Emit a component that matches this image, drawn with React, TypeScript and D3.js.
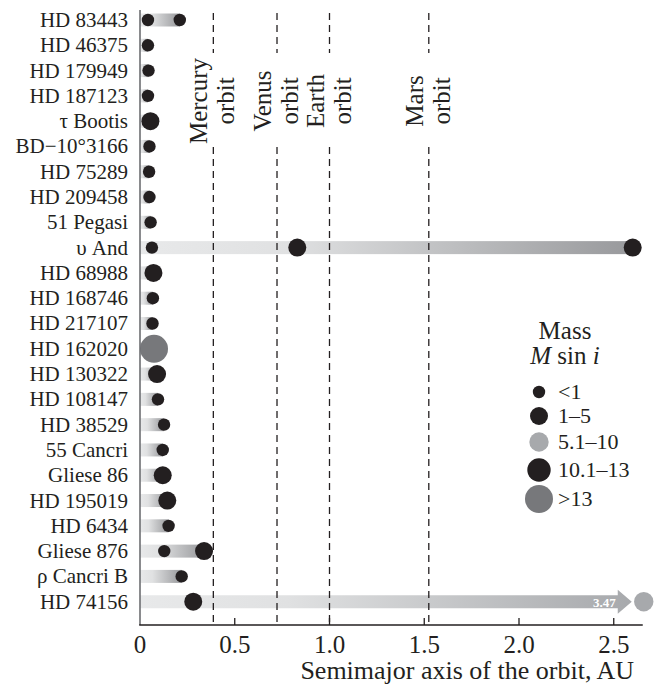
import React from "react";
import * as d3 from "d3";

const starNames = [
  "HD 83443", "HD 46375", "HD 179949", "HD 187123", "τ Bootis", "BD−10°3166",
  "HD 75289", "HD 209458", "51 Pegasi", "υ And", "HD 68988", "HD 168746",
  "HD 217107", "HD 162020", "HD 130322", "HD 108147", "HD 38529", "55 Cancri",
  "Gliese 86", "HD 195019", "HD 6434", "Gliese 876", "ρ Cancri B", "HD 74156",
];

// semimajor axes (AU) of planets for each star
const planetSemimajor: number[][] = [
  [0.042, 0.21], [0.042], [0.045], [0.042], [0.055], [0.05],
  [0.048], [0.05], [0.056], [0.063, 0.83, 2.6], [0.071], [0.068],
  [0.066], [0.074], [0.09], [0.095], [0.127], [0.12],
  [0.12], [0.144], [0.151], [0.128, 0.338], [0.22], [0.281, 3.47],
];

// mass class index for each planet (see massClasses)
const planetMassClass: number[][] = [
  [0, 0], [0], [0], [0], [1], [0],
  [0], [0], [0], [0, 1, 1], [1], [0],
  [0], [4], [1], [0], [0], [0],
  [1], [1], [0], [0, 1], [0], [1, 2],
];

const massClasses = ["<1", "1–5", "5.1–10", "10.1–13", ">13"];
const xTicks = [0, 0.5, 1.0, 1.5, 2.0, 2.5];
const orbitNames = ["Mercury", "Venus", "Earth", "Mars"];
const orbitRadii = [0.387, 0.723, 1.0, 1.524];

const tickMax = 2.5;
const visibleMax = 2.65;

const massRadius = [6.2, 9, 9.7, 11.7, 14];
const massColor = ["#231f20", "#231f20", "#a7a9ac", "#231f20", "#77787b"];

const FONT = "'Liberation Serif', 'Times New Roman', Tinos, serif";

export default function App() {
  const width = 654;
  const height = 686;
  const x = d3.scaleLinear().domain([0, tickMax]).range([140, 613.75]);
  const y = d3
    .scalePoint<string>()
    .domain(starNames)
    .range([20, 601.7]);
  const axisY = 625;
  const barH = 13;

  const xPos = (a: number) => (a > visibleMax ? x(tickMax) + 30 : x(a));

  return (
    <svg
      width={width}
      height={height}
      style={{ position: "absolute", left: 0, top: 0, background: "#fff", fontFamily: FONT }}
    >
      <defs>
        {starNames.map((s, i) => {
          const maxA = d3.max(planetSemimajor[i]) as number;
          const end = maxA > visibleMax ? x(tickMax) + 18 : x(maxA);
          return (
            <linearGradient
              key={s}
              id={`g${i}`}
              gradientUnits="userSpaceOnUse"
              x1={x(0)}
              x2={end}
              y1={0}
              y2={0}
            >
              <stop offset="0" stopColor="#e8e9ea" />
              <stop offset="0.3" stopColor="#e0e1e2" />
              <stop offset="1" stopColor={maxA > visibleMax ? "#a7a9ac" : "#98999c"} />
            </linearGradient>
          );
        })}
      </defs>

      {/* bars */}
      {starNames.map((s, i) => {
        const maxA = d3.max(planetSemimajor[i]) as number;
        const cy = y(s) as number;
        if (maxA > visibleMax) {
          const bx = x(tickMax) + 4;
          const tip = x(tickMax) + 18;
          return (
            <g key={s}>
              <path
                d={`M${x(0)},${cy - barH / 2}H${bx}V${cy - 12}L${tip},${cy}L${bx},${cy + 12}V${cy + barH / 2}H${x(0)}Z`}
                fill={`url(#g${i})`}
              />
              <text
                x={bx - 2}
                y={cy + 5}
                textAnchor="end"
                fontSize={13}
                fontWeight="bold"
                fill="#ffffff"
                style={{ fontFamily: FONT }}
              >
                {String(maxA)}
              </text>
            </g>
          );
        }
        return (
          <rect
            key={s}
            x={x(0)}
            y={cy - barH / 2}
            width={x(maxA) - x(0)}
            height={barH}
            fill={`url(#g${i})`}
          />
        );
      })}

      {/* orbit lines */}
      {orbitRadii.map((r, i) => (
        <g key={orbitNames[i]}>
          <line
            x1={x(r)}
            x2={x(r)}
            y1={13}
            y2={53}
            stroke="#231f20"
            strokeWidth={1.3}
            strokeDasharray="7,5"
          />
          <line
            x1={x(r)}
            x2={x(r)}
            y1={147}
            y2={axisY}
            stroke="#231f20"
            strokeWidth={1.3}
            strokeDasharray="7,5"
          />
          <text
            transform={`translate(${x(r) - 6},101) rotate(-90)`}
            textAnchor="middle"
            fontSize={25}
            fill="#231f20"
            style={{ fontFamily: FONT }}
          >
            {orbitNames[i]}
          </text>
          <text
            transform={`translate(${x(r) + 21},101) rotate(-90)`}
            textAnchor="middle"
            fontSize={25}
            fill="#231f20"
            style={{ fontFamily: FONT }}
          >
            orbit
          </text>
        </g>
      ))}

      {/* planets */}
      {starNames.map((s, i) =>
        planetSemimajor[i].map((a, j) => {
          const c = planetMassClass[i][j];
          return (
            <circle
              key={`${s}-${j}`}
              cx={xPos(a)}
              cy={y(s) as number}
              r={massRadius[c]}
              fill={massColor[c]}
            />
          );
        })
      )}

      {/* left axis */}
      <line x1={x(0)} x2={x(0)} y1={10} y2={axisY} stroke="#6d6e71" strokeWidth={1.6} />
      {/* bottom axis */}
      <line x1={x(0) - 0.8} x2={x(tickMax) + 29} y1={axisY} y2={axisY} stroke="#231f20" strokeWidth={1.4} />
      {xTicks.map((t) => (
        <g key={t}>
          {t > 0 && (
            <line x1={x(t)} x2={x(t)} y1={axisY} y2={axisY - 7} stroke="#231f20" strokeWidth={1.3} />
          )}
          <text
            x={x(t)}
            y={653}
            textAnchor="middle"
            fontSize={25}
            fill="#231f20"
            style={{ fontFamily: FONT }}
          >
            {t === 0 ? "0" : d3.format(".1f")(t)}
          </text>
        </g>
      ))}
      <text
        x={634}
        y={679}
        textAnchor="end"
        fontSize={26}
        fill="#231f20"
        style={{ fontFamily: FONT }}
      >
        Semimajor axis of the orbit, AU
      </text>

      {/* star labels */}
      {starNames.map((s) => (
        <text
          key={s}
          x={128}
          y={(y(s) as number) + 7}
          textAnchor="end"
          fontSize={21}
          fill="#231f20"
          style={{ fontFamily: FONT }}
        >
          {s}
        </text>
      ))}

      {/* legend */}
      <text x={565} y={339} textAnchor="middle" fontSize={25} fill="#231f20" style={{ fontFamily: FONT }}>
        Mass
      </text>
      <text x={565} y={364} textAnchor="middle" fontSize={25} fill="#231f20" style={{ fontFamily: FONT }}>
        <tspan fontStyle="italic">M</tspan>
        <tspan> sin </tspan>
        <tspan fontStyle="italic">i</tspan>
      </text>
      {massClasses.map((m, i) => {
        const ly = [392, 416, 442, 470, 499][i];
        return (
          <g key={m}>
            <circle cx={539} cy={ly} r={massRadius[i]} fill={massColor[i]} />
            <text x={558} y={ly + 7} fontSize={22} fill="#231f20" style={{ fontFamily: FONT }}>
              {m}
            </text>
          </g>
        );
      })}
    </svg>
  );
}
